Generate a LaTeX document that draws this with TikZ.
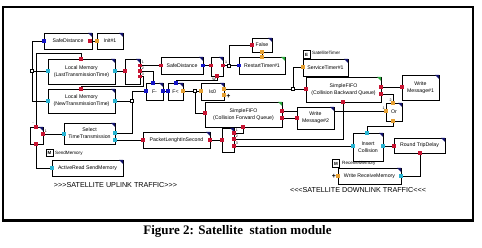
\documentclass[tikz,border=0pt]{standalone}
\usepackage{fontspec}
\setmainfont{Liberation Sans}
\newfontfamily\capfont{Liberation Serif}
\usetikzlibrary{backgrounds}
\definecolor{pred}{RGB}{200,20,50}
\definecolor{pblue}{RGB}{20,20,200}
\definecolor{pcyan}{RGB}{40,180,210}
\definecolor{porange}{RGB}{230,160,50}
\definecolor{cnavy}{RGB}{20,20,110}
\definecolor{cgreen}{RGB}{40,170,60}
\tikzset{
 blk/.style={draw, fill=white, line width=0.7pt, inner sep=0pt, outer sep=0pt, align=center,
   font=\fontsize{5.2}{7}\selectfont,
   preaction={fill=black!55, transform canvas={xshift=0.8pt, yshift=-0.8pt}}},
 port/.style={rectangle, inner sep=0pt, outer sep=0pt, minimum size=3.2pt, draw=none},
 junc/.style={rectangle, draw, fill=white, line width=0.5pt, inner sep=0pt, minimum size=2.6pt},
 wire/.style={line width=0.7pt},
 plbl/.style={font=\fontsize{3.6}{4}\selectfont, inner sep=0pt},
 tagbox/.style={draw, fill=white, line width=0.6pt, inner sep=0pt, minimum width=7pt, minimum height=7.5pt,
   font=\bfseries\fontsize{4.5}{5}\selectfont},
 smalltxt/.style={font=\fontsize{4.6}{5}\selectfont, inner sep=0pt, anchor=west},
 banner/.style={font=\fontsize{7.2}{8}\selectfont, inner sep=0pt, anchor=base},
 plusmark/.style={font=\bfseries\fontsize{7}{7}\selectfont, inner sep=0pt},
}
\newcommand\blk[7]{%
  \node[blk, minimum width={(#4-#2)*1pt}, minimum height={(#5-#3)*1pt}] (#1) at ({(#2+#4)/2},{(#3+#5)/2}) {#6};
  \fill[#7] (#1.north east) -- ++(-4,0) -- ++(4,4) -- cycle;
}
\newcommand\port[4]{\node[port, fill=#4] (#1) at (#2,#3) {};}
\begin{document}
\begin{tikzpicture}[x=1pt,y=-1pt]
\useasboundingbox (0,0) rectangle (482,248);
% frame
\draw[line width=1.2pt] (3,7) rectangle (473,221);
\draw[line width=2.5pt] (3,6.5) -- (3,222.5);
\draw[line width=3pt] (2,221) -- (474,221);

% blocks
\blk{sdL}{44}{33}{92}{49}{SafeDistance}{cnavy}
\blk{init}{97}{33}{123}{49}{Init\#1}{cnavy}
\blk{lmLast}{48}{59}{115}{84}{Local Memory\\(LastTransmissionTime)}{cnavy}
\blk{lmNew}{48}{89}{115}{113}{Local Memory\\(NewTransmissionTime)}{cnavy}
\blk{muxA}{125}{59}{140}{84}{}{cnavy}
\blk{sdM}{161}{57}{203}{74}{SafeDistance}{cnavy}
\blk{sw}{211}{57}{223}{76}{}{cnavy}
\blk{fls}{252}{38}{272}{52}{False}{cnavy}
\blk{rst}{239}{57}{285}{74}{RestartTimer\#1}{cgreen}
\blk{fmin}{146}{83}{163}{100}{F-}{cnavy}
\blk{flt}{168}{83}{183}{100}{F<}{cnavy}
\blk{leq}{201}{83}{224}{100}{I≤0}{cnavy}
\blk{svc}{303}{59}{348}{76}{ServiceTimer\#1}{cnavy}
\blk{fifoB}{306}{77}{381}{102}{SimpleFIFO\\(Collision Backward Queue)}{cgreen}
\blk{wmA}{402}{75}{439}{100}{Write\\Message\#1}{cnavy}
\blk{orb}{386}{103}{402}{121}{Or}{cnavy}
\blk{fifoF}{205}{102}{282}{127}{SimpleFIFO\\(Collision Forward Queue)}{cgreen}
\blk{wmB}{297}{107}{334}{129}{Write\\Message\#2}{cnavy}
\blk{ins}{353}{133}{383}{161}{Insert\\Collision}{cnavy}
\blk{rtd}{394}{138}{445}{153}{Round TripDelay}{cnavy}
\blk{wrm}{338}{168}{401}{184}{Write ReceiveMemory}{cnavy}
\blk{muxC}{30}{127}{43}{144}{}{cnavy}
\blk{sel}{64}{123}{115}{144}{Select\\TimeTransmission}{cnavy}
\blk{ard}{52}{160}{123}{176}{ActiveRead SendMemory}{cnavy}
\blk{pkt}{143}{132}{210}{148}{PacketLenghtInSecond}{cnavy}
\blk{muxB}{222}{128}{234}{152}{}{cnavy}

% tags and small texts
\node[tagbox] (eTag) at (306.5,54.5) {E};
\node[smalltxt] (eTxt) at (312,53) {SatelliteTimer};
\node[tagbox] (mTag1) at (49.5,153) {M};
\node[smalltxt] (mTxt1) at (55,153) {SendMemory};
\node[tagbox] (mTag2) at (336,163.5) {M};
\node[smalltxt] (mTxt2) at (342,163) {ReceiveMemory};

% ports
\port{sdLi}{44}{41}{pblue} \port{sdLo}{90}{41}{pred}
\port{initi}{97}{41}{porange}
\port{lmLi}{48}{71}{pcyan} \port{lmLo}{115}{71}{pcyan} \port{lmLt}{81}{59}{pred}
\port{lmNi}{48}{101}{pcyan} \port{lmNo}{115}{101}{pcyan} \port{lmNt}{81}{89}{pred}
\port{mAi}{125}{71}{pred} \port{mAo1}{140}{65.5}{pred} \port{mAo2}{140}{71}{pred} \port{mAo3}{140}{76.5}{pred}
\port{sdMi}{161}{65.5}{pred} \port{sdMo}{203}{65.5}{pblue}
\port{swi}{211}{65.5}{pred} \port{swo}{223}{65.5}{pred} \port{sww}{217}{76}{pred}
\port{flsi}{252}{45}{pred} \port{flso}{262}{52}{porange}
\port{rsti}{239}{65.5}{pblue} \port{rstt}{262}{57}{porange}
\port{fmi}{146}{91}{pblue} \port{fmo}{163}{91}{pblue} \port{fmt}{153}{83}{pblue}
\port{fli}{168}{91}{pblue} \port{flo}{183}{91}{porange} \port{fltt}{176}{83}{pblue}
\port{lei}{201}{91}{porange} \port{leo1}{224}{89}{porange} \port{leo2}{224}{95}{porange}
\port{svci}{303}{67}{porange}
\port{fBi}{306}{89}{pred} \port{fBo1}{381}{87}{pred} \port{fBo2}{381}{94}{pred} \port{fBb}{343}{102}{pred}
\port{wAi}{402}{87}{pred}
\port{ori1}{386}{111}{porange} \port{ori2}{393}{103}{porange} \port{oro}{393}{121}{porange}
\port{fFi}{205}{113}{pred} \port{fFo1}{282}{111}{pred} \port{fFo2}{282}{118}{pred} \port{fFb}{243}{127}{pred}
\port{wBi}{297}{118}{pred}
\port{insi}{353}{146}{pcyan} \port{inst}{367}{133}{pcyan} \port{inso}{383}{146}{pcyan}
\port{rtdi}{394}{146}{pred} \port{rtdb}{420}{153}{pred}
\port{wrmi}{338}{176}{porange} \port{wrmo}{401}{176}{pcyan}
\port{mCt}{36}{127}{pred} \port{mCo}{43}{134}{pred} \port{mCb}{36}{144}{pred}
\port{seli}{64}{134}{pcyan} \port{selo1}{115}{133}{pcyan} \port{selo2}{115}{140}{pcyan}
\port{ardi}{52}{168}{pcyan}
\port{pkti}{143}{140}{pred} \port{pkto}{210}{140}{pred}
\port{mBi}{222}{140}{pred} \port{mBo1}{234}{133}{pred} \port{mBo2}{234}{139}{pred} \port{mBo3}{234}{146}{pred}

% port labels
\node[plbl] (lA1) at (142.8,62.5) {1};
\node[plbl] (lA2) at (142.8,68.5) {2};
\node[plbl] (lA3) at (142.8,74) {3};
\node[plbl] (lsw1) at (226,62.5) {1};
\node[plbl] (lswW) at (214,79) {W};
\node[plbl] (lor1) at (383.5,108.5) {1};
\node[plbl] (lor2) at (390.5,100) {2};
\node[plbl] (lC0) at (33,123.5) {..};
\node[plbl] (lC1) at (46,131.5) {1};
\node[plbl] (lB1) at (236.8,130.5) {1};
\node[plbl] (lB2) at (236.8,136.5) {2};
\node[plbl] (lB3) at (236.8,143.5) {3};

% junctions
\node[junc] (j1) at (32,71) {};
\node[junc] (j2) at (132,101) {};
\node[junc] (j3) at (195,91) {};
\node[junc] (j4) at (229,65.5) {};
\node[junc] (j5) at (293,89) {};

% plus markers
\node[plusmark] (plusA) at (228.5,96) {+};
\node[plusmark] (plusB) at (334,176) {+};

% banners and caption
\node[banner] (upTxt) at (115.5,187.5) {>{}>{}>SATELLITE UPLINK TRAFFIC>{}>{}>};
\node[banner] (downTxt) at (358,192.5) {<{}<{}<SATELLITE DOWNLINK TRAFFIC<{}<{}<};
\node[anchor=base, inner sep=0pt, font=\capfont\bfseries\fontsize{13}{15}\selectfont] (cap) at (237.5,235) {Figure 2: Satellite\ \ station module};

% connectors
\begin{scope}[on background layer, wire]
\fill[white] (0,0) rectangle (482,248);
\draw (j1) |- (sdLi);
\draw (j1) -- (lmLi);
\draw (j1) |- (lmNi);
\draw (mCt) -- (36,53) -| (lmLt);
\draw (lmLo) -- (mAi);
\draw (mAo1) -- (sdMi);
\draw (mAo2) -| (fmt);
\draw (mAo3) -| (143,86) -| (lmNt);
\draw (fltt) -- (176,80) -| (sww);
\draw (sdMo) -- (swi);
\draw (swo) -- (j4);
\draw (j4) -- (rsti);
\draw (j4) |- (flsi);
\draw (flso) -- (rstt);
\draw (lmNo) -- (j2);
\draw (j2) |- (fmi);
\draw (j2) |- (selo1);
\draw (fmo) -- (fli);
\draw (flo) -- (j3);
\draw (j3) -- (lei);
\draw (j3) |- (fFi);
\draw (leo1) -- (j5);
\draw (j5) -- (fBi);
\draw (j5) |- (svci);
\draw (fBo1) -- (wAi);
\draw (fBo2) -| (ori2);
\draw (fFo1) -- (ori1);
\draw (fFo2) -- (wBi);
\draw (oro) -- (393,126) -| (inst);
\draw (fBb) |- (mBo2);
\draw (mBo3) -- (insi);
\draw (mBo1) -| (fFb);
\draw (inso) -- (rtdi);
\draw (rtdb) |- (wrmo);
\draw (mCo) -- (seli);
\draw (selo2) -- (pkti);
\draw (pkto) -- (mBi);
\draw (mCb) |- (ardi);
\draw (sdLo) -- (initi);
\end{scope}
\end{tikzpicture}
\end{document}
